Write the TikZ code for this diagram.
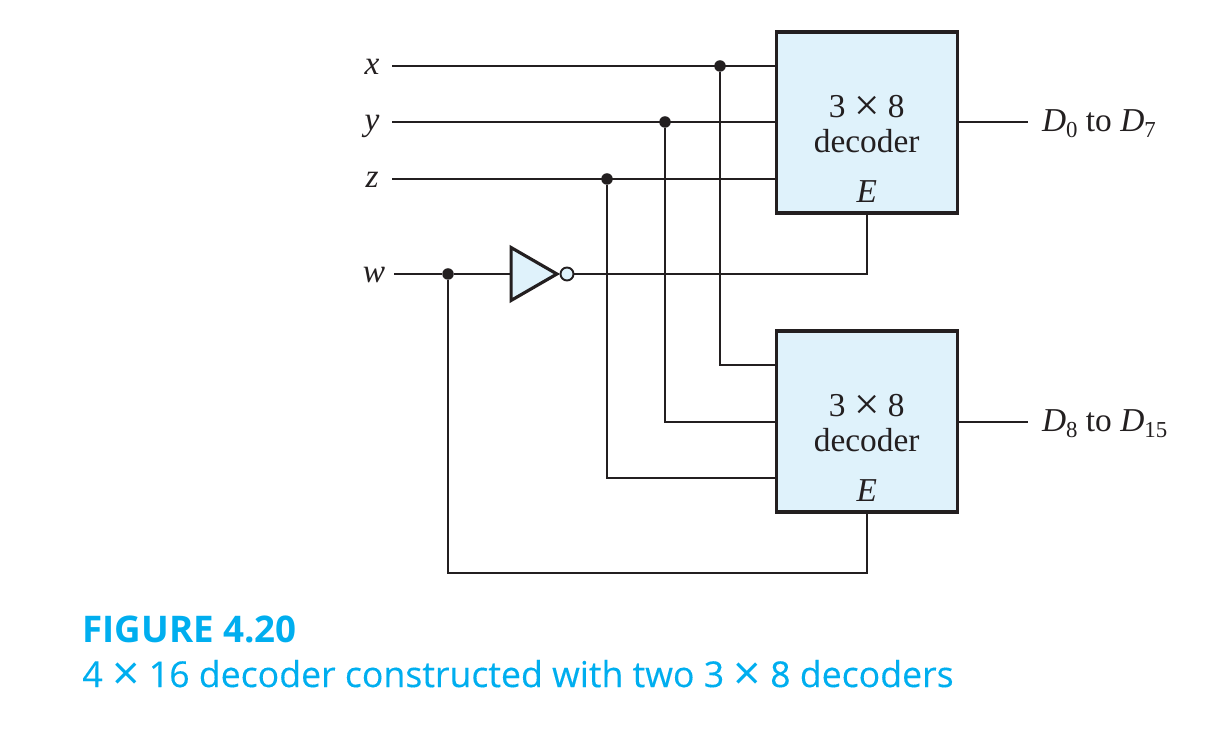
\documentclass[tikz,border=0pt]{standalone}
\usepackage{fontspec}
\setmainfont{Liberation Serif}
\newfontfamily\capfont{Open Sans}
\newfontfamily\capmed[FakeBold=0.25]{Open Sans}
\usetikzlibrary{shapes.geometric, calc}
\definecolor{boxblue}{HTML}{DFF2FB}
\definecolor{capblue}{HTML}{00AEEF}
\definecolor{ink}{HTML}{231F20}
\newcommand{\lowsub}[1]{\raisebox{-3.2pt}{\fontsize{13}{14}\selectfont #1}}
\newcommand{\bigx}{\raisebox{-1.7pt}{\scalebox{1.35}{×}}}
\newcommand{\thinx}{\raisebox{-1.7pt}{\scalebox{1.35}{\capfont ×}}}
\tikzset{
  wire/.style={ink, line width=1.2pt},
  decbox/.style={draw=ink, fill=boxblue, line width=1.8pt, minimum width=3.62cm, minimum height=3.62cm, inner sep=0pt, outer sep=0pt},
  dectext/.style={align=center, font=\fontsize{19}{20}\selectfont, text=ink, inner sep=0pt},
  inlabel/.style={font=\fontsize{19}{20}\selectfont\itshape, text=ink, minimum width=0.8cm, inner sep=0pt, outer sep=0pt, text height=13pt, text depth=3pt},
  outlabel/.style={anchor=west, font=\fontsize{19}{20}\selectfont, text=ink, inner xsep=8pt, inner ysep=0pt, outer sep=0pt, text height=14pt, text depth=3pt},
  joint/.style={circle, fill=ink, minimum size=0.23cm, inner sep=0pt, outer sep=0pt},
  bubble/.style={circle, draw=ink, fill=boxblue, line width=1.1pt, minimum size=0.26cm, inner sep=0pt, outer sep=0pt},
  notgate/.style={draw=ink, fill=boxblue, line width=1.8pt, regular polygon, regular polygon sides=3, rotate=-90, minimum size=1.22cm, inner sep=0pt, outer sep=0pt},
  capline/.style={anchor=west, text=capblue, inner sep=0pt}
}
\begin{document}
\begin{tikzpicture}[x=0.02cm, y=-0.02cm]
  \useasboundingbox (0,0) rectangle (1224,732);

  % the two decoders
  \node (dec0) [decbox] at (866.7,122.5) {};
  \node (dec1) [decbox] at (866.7,421.5) {};
  \foreach \d in {0,1}{
    \node (txt\d) [dectext] at ($(dec\d.center)+(0,1.5)$) {3 \bigx{} 8\\decoder};
    \node (en\d) [dectext] at ($(dec\d.south)+(0,-21)$) {\textit{E}};}

  % inputs
  \foreach \n/\s/\yy/\yb/\xd in {x/x/66/365/720, y/y/122/422/665, z/z/179/478/607}{
    \node (\n lab) [inlabel] at (372,\yy) {\s};
    \node (\n dot) [joint] at (\xd,\yy) {};
    \coordinate (\n top) at (dec0.west |- \n lab);
    \coordinate (\n bot) at (775,\yb);
    \draw [wire] (\n lab.east) -- (\n top);
    \draw [wire] (\n dot) |- (\n bot);}

  % enable
  \node (wlab) [inlabel] at (374,274) {w};
  \node (wdot) [joint] at (448,274) {};
  \node (inv) [notgate] at (526.4,274) {};
  \node (invb) [bubble] at (567,274) {};
  \coordinate (wlow) at (448,573);
  \draw [wire] (wlab.east) -- (wdot) -- (inv.side 2);
  \draw [wire] (invb.east) -| (dec0.south);
  \draw [wire] (wdot) -- (wlow) -| (dec1.south);

  % outputs
  \node (out0) [outlabel] at (1028,122) {\textit{D}\lowsub{0} to \textit{D}\lowsub{7}};
  \node (out1) [outlabel] at (1028,422) {\textit{D}\lowsub{8} to \textit{D}\lowsub{15}};
  \draw [wire] (dec0.east |- out0) -- (out0.west);
  \draw [wire] (dec1.east |- out1) -- (out1.west);

  % caption
  \node (capa) [capline, font=\capfont\bfseries\fontsize{20.9}{24}\selectfont] at (82,629) {FIGURE 4.20};
  \node (capb) [capline, font=\capmed\fontsize{20.3}{24}\selectfont] at (82,675) {4 \thinx{} 16 decoder constructed with two 3 \thinx{} 8 decoders};
\end{tikzpicture}
\end{document}
